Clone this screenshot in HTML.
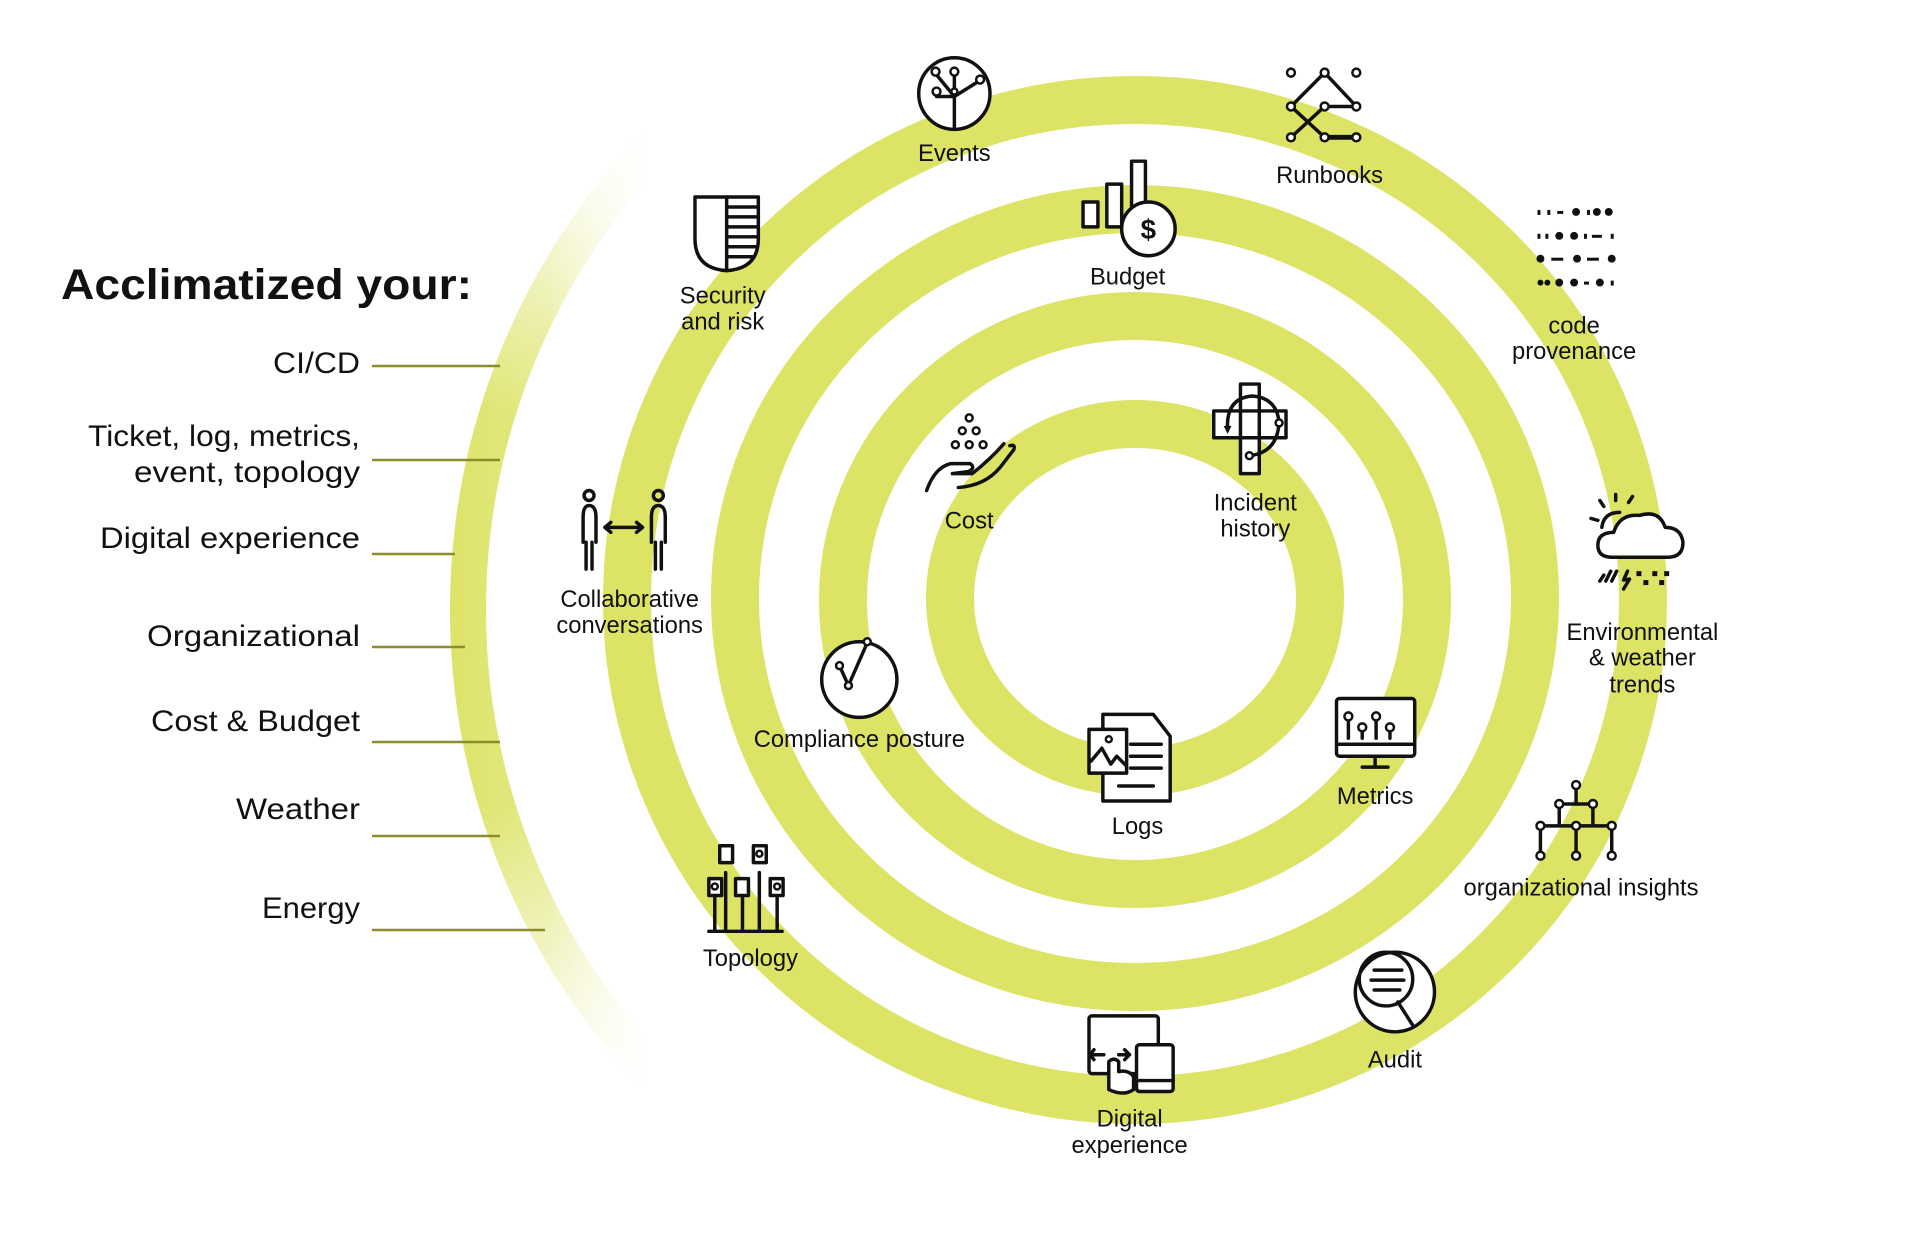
<!DOCTYPE html>
<html><head><meta charset="utf-8"><style>
html,body{margin:0;padding:0;background:#fff;}
svg{display:block;}
text{font-family:"Liberation Sans",sans-serif;fill:#111;}
.l{font-size:24px;text-anchor:middle;}
.r{font-size:30px;text-anchor:end;}
.i{fill:none;stroke:#111;stroke-width:3.5;stroke-linecap:round;stroke-linejoin:round;}
.w{fill:#fff;stroke:#111;stroke-width:3.5;stroke-linejoin:round;}
.n{fill:#fff;stroke:#111;stroke-width:2.5;}
</style></head><body>
<svg width="1920" height="1257" viewBox="0 0 1920 1257" xmlns="http://www.w3.org/2000/svg">
<defs>
<linearGradient id="fg" x1="440" y1="0" x2="650" y2="0" gradientUnits="userSpaceOnUse">
<stop offset="0" stop-color="#dce365" stop-opacity="1"/>
<stop offset="0.5" stop-color="#dce365" stop-opacity="0.8"/>
<stop offset="1" stop-color="#dce365" stop-opacity="0"/>
</linearGradient>
<linearGradient id="fv" x1="0" y1="120" x2="0" y2="1100" gradientUnits="userSpaceOnUse">
<stop offset="0" stop-color="#fff" stop-opacity="0"/>
<stop offset="0.3" stop-color="#fff" stop-opacity="1"/>
<stop offset="0.7" stop-color="#fff" stop-opacity="1"/>
<stop offset="1" stop-color="#fff" stop-opacity="0"/>
</linearGradient>
<mask id="m"><rect x="0" y="0" width="1920" height="1257" fill="url(#fv)"/></mask>
<clipPath id="c"><rect x="0" y="0" width="650" height="1257"/></clipPath>
</defs>
<g clip-path="url(#c)" mask="url(#m)">
<circle cx="1140" cy="610" r="672" fill="none" stroke="url(#fg)" stroke-width="36"/>
</g>
<g fill="none" stroke="#dce365" stroke-width="48">
<ellipse cx="1135" cy="598" rx="185" ry="174"/>
<ellipse cx="1135" cy="600" rx="292" ry="284"/>
<ellipse cx="1135" cy="598" rx="400" ry="389"/>
<ellipse cx="1135" cy="600" rx="508" ry="500"/>
</g>
<text x="61" y="299" style="font-size:43px;font-weight:bold" textLength="411" lengthAdjust="spacingAndGlyphs">Acclimatized your:</text>
<text class="r" x="360" y="373" textLength="87" lengthAdjust="spacingAndGlyphs">CI/CD</text>
<text class="r" x="360" y="446" textLength="272" lengthAdjust="spacingAndGlyphs">Ticket, log, metrics,</text>
<text class="r" x="360" y="482" textLength="226" lengthAdjust="spacingAndGlyphs">event, topology</text>
<text class="r" x="360" y="548" textLength="260" lengthAdjust="spacingAndGlyphs">Digital experience</text>
<text class="r" x="360" y="646" textLength="213" lengthAdjust="spacingAndGlyphs">Organizational</text>
<text class="r" x="360" y="731" textLength="209" lengthAdjust="spacingAndGlyphs">Cost &amp; Budget</text>
<text class="r" x="360" y="819" textLength="124" lengthAdjust="spacingAndGlyphs">Weather</text>
<text class="r" x="360" y="918" textLength="98" lengthAdjust="spacingAndGlyphs">Energy</text>
<g stroke="#8a8c2e" stroke-width="2.5">
<line x1="372" y1="366" x2="500" y2="366"/>
<line x1="372" y1="460" x2="500" y2="460"/>
<line x1="372" y1="554" x2="455" y2="554"/>
<line x1="372" y1="647" x2="465" y2="647"/>
<line x1="372" y1="742" x2="500" y2="742"/>
<line x1="372" y1="836" x2="500" y2="836"/>
<line x1="372" y1="930" x2="545" y2="930"/>
</g>
<g transform="scale(0.99,0.995)">
<text class="l" x="964" y="162">Events</text>
<text class="l" x="1343" y="184">Runbooks</text>
<text class="l" x="1139" y="286">Budget</text>
<text class="l" x="730" y="305">Security</text><text class="l" x="730" y="331">and risk</text>
<text class="l" x="1590" y="335">code</text><text class="l" x="1590" y="361">provenance</text>
<text class="l" x="979" y="531">Cost</text>
<text class="l" x="1268" y="513">Incident</text><text class="l" x="1268" y="539">history</text>
<text class="l" x="636" y="610">Collaborative</text><text class="l" x="636" y="636">conversations</text>
<text class="l" x="1659" y="643">Environmental</text><text class="l" x="1659" y="669">&amp; weather</text><text class="l" x="1659" y="696">trends</text>
<text class="l" x="868" y="751">Compliance posture</text>
<text class="l" x="1389" y="808">Metrics</text>
<text class="l" x="1149" y="838">Logs</text>
<text class="l" x="1597" y="900">organizational insights</text>
<text class="l" x="758" y="971">Topology</text>
<text class="l" x="1409" y="1073">Audit</text>
<text class="l" x="1141" y="1132">Digital</text><text class="l" x="1141" y="1159">experience</text>

<circle class="w" cx="964" cy="94" r="36"/>
<path class="i" d="M964 130V97M964 97L945 74M964 97L988 82M964 97V72M964 97H946"/>
<g class="n"><circle cx="945" cy="72" r="4"/><circle cx="990" cy="80" r="4"/><circle cx="964" cy="72" r="4"/><circle cx="946" cy="92" r="4"/><circle cx="964" cy="92" r="3"/></g>
<g transform="translate(10,0)">
<path class="i" d="M1328 73L1294 107L1328 138M1328 73L1360 107L1328 107L1294 138M1328 138H1360"/>
<path d="M1328 138H1360" stroke="#111" stroke-width="5"/>
<g class="n"><circle cx="1294" cy="73" r="4"/><circle cx="1328" cy="73" r="4"/><circle cx="1360" cy="73" r="4"/><circle cx="1294" cy="107" r="4"/><circle cx="1328" cy="107" r="4"/><circle cx="1360" cy="107" r="4"/><circle cx="1294" cy="138" r="4"/><circle cx="1328" cy="138" r="4"/><circle cx="1360" cy="138" r="4"/></g>
</g>
<rect class="w" x="1094" y="203" width="15" height="25"/>
<rect class="w" x="1118" y="185" width="15" height="43"/>
<rect class="w" x="1143" y="162" width="14" height="50"/>
<circle class="w" cx="1160" cy="230" r="27"/>
<text x="1160" y="240" style="font-size:28px;font-weight:bold;text-anchor:middle">$</text>
<path class="w" d="M702 198H766V240Q766 270 734 272Q702 270 702 240Z"/>
<path class="i" d="M734 198V272M734 208H766M734 218H766M734 228H766M734 238H766M734 248H765M734 258H760" stroke-width="3"/>
<g fill="#111">
<circle cx="1592" cy="213" r="4"/><circle cx="1613" cy="213" r="4"/><circle cx="1625" cy="213" r="4"/><rect x="1553" y="211" width="3" height="5"/><rect x="1563" y="211" width="3" height="5"/><rect x="1573" y="212" width="6" height="3"/><rect x="1603" y="211" width="3" height="5"/>
<circle cx="1575" cy="237" r="4"/><circle cx="1590" cy="237" r="4"/><rect x="1553" y="235" width="3" height="5"/><rect x="1561" y="235" width="3" height="5"/><rect x="1600" y="235" width="3" height="5"/><rect x="1608" y="236" width="10" height="3"/><rect x="1627" y="235" width="3" height="5"/>
<circle cx="1556" cy="260" r="4"/><circle cx="1593" cy="260" r="4"/><circle cx="1628" cy="260" r="4"/><rect x="1567" y="259" width="12" height="3"/><rect x="1603" y="259" width="12" height="3"/>
<circle cx="1556" cy="284" r="3"/><circle cx="1563" cy="284" r="3"/><circle cx="1575" cy="284" r="4"/><circle cx="1590" cy="284" r="4"/><rect x="1600" y="283" width="5" height="3"/><circle cx="1616" cy="284" r="4"/><rect x="1627" y="282" width="3" height="5"/>
</g>
<path class="i" d="M936 493Q944 470 960 466L980 466Q986 470 978 474L962 476M962 476L982 476Q1000 462 1014 446M968 490Q995 488 1010 470L1024 452Q1026 446 1020 448"/>
<g class="n"><circle cx="979" cy="420" r="3.5"/><circle cx="972" cy="433" r="3.5"/><circle cx="986" cy="433" r="3.5"/><circle cx="965" cy="447" r="3.5"/><circle cx="979" cy="447" r="3.5"/><circle cx="993" cy="447" r="3.5"/></g>
<path class="w" d="M1253 386H1272V413H1299V440H1272V476H1253V440H1226V413H1253Z"/>
<path class="i" d="M1253 413V440M1272 413V440M1253 440H1272M1253 413H1272" stroke-width="2.5"/>
<path class="i" d="M1240 432Q1238 400 1265 398Q1290 400 1292 425Q1290 455 1262 458" stroke-width="2.5"/>
<path d="M1236 428L1244 428L1240 436Z" fill="#111"/>
<circle class="n" cx="1292" cy="425" r="3.5"/><circle class="n" cx="1262" cy="458" r="3.5"/>
<g class="i" stroke-width="3">
<circle cx="595" cy="498" r="5"/><path d="M589 545V520Q589 508 595 508Q602 508 602 520V545M592 545V572M598 545V572"/>
<circle cx="665" cy="498" r="5"/><path d="M658 545V520Q658 508 665 508Q672 508 672 520V545M662 545V572M668 545V572"/>
<path d="M612 530H648M617 525L611 530L617 535M643 525L649 530L643 535"/>
</g>
<path class="w" d="M1628 560Q1614 560 1614 548Q1614 535 1630 535Q1636 516 1656 518Q1676 512 1682 530Q1698 530 1700 545Q1700 560 1685 560Z"/>
<path class="i" d="M1618 530Q1620 515 1636 515M1614 523L1607 521M1620 509L1616 503M1632 503V497M1645 505L1649 499M1620 578L1616 584M1627 574L1622 584M1633 574L1628 584M1644 574L1640 583L1646 582L1640 592"/>
<g fill="#111"><rect x="1653" y="574" width="5" height="5"/><rect x="1660" y="583" width="5" height="5"/><rect x="1669" y="574" width="5" height="5"/><rect x="1676" y="583" width="5" height="5"/><rect x="1681" y="574" width="5" height="5"/></g>
<circle class="w" cx="868" cy="683" r="38"/>
<path class="i" d="M848 669L857 689L876 646"/>
<g class="n"><circle cx="848" cy="669" r="3.5"/><circle cx="857" cy="689" r="3.5"/><circle cx="876" cy="645" r="3.5"/></g>
<rect class="w" x="1350" y="702" width="79" height="58" rx="3"/>
<path class="i" d="M1350 748H1429M1389 760V770M1376 771H1402M1362 742V722M1376 742V733M1390 742V722M1404 742V733"/>
<g class="n"><circle cx="1362" cy="720" r="4"/><circle cx="1376" cy="731" r="4"/><circle cx="1390" cy="720" r="4"/><circle cx="1404" cy="731" r="4"/></g>
<path class="w" d="M1114 718H1165L1182 740V805H1114Z"/>
<rect class="w" x="1100" y="733" width="38" height="44"/>
<path class="i" d="M1102 765L1113 752L1122 768L1128 760L1138 770M1142 748H1173M1142 760H1173M1142 772H1173M1130 790H1165"/>
<circle class="n" cx="1120" cy="743" r="3"/>
<path class="i" d="M1592 790V808M1575 808H1609V830M1575 808V830M1556 830H1628M1556 830V858M1592 830V858M1628 830V858"/>
<g class="n"><circle cx="1592" cy="789" r="4"/><circle cx="1575" cy="808" r="4"/><circle cx="1609" cy="808" r="4"/><circle cx="1556" cy="830" r="4"/><circle cx="1592" cy="830" r="4"/><circle cx="1628" cy="830" r="4"/><circle cx="1556" cy="860" r="4"/><circle cx="1592" cy="860" r="4"/><circle cx="1628" cy="860" r="4"/></g>
<path class="i" d="M716 936H790M733 877V936M767 877V936M722 902V936M750 902V936M785 902V936"/>
<g class="w" stroke-width="3"><rect x="727" y="850" width="13" height="17"/><rect x="761" y="850" width="13" height="17"/><rect x="716" y="883" width="13" height="17"/><rect x="743" y="883" width="13" height="17"/><rect x="778" y="883" width="13" height="17"/></g>
<g class="n"><circle cx="767" cy="858" r="3"/><circle cx="722" cy="891" r="3"/><circle cx="785" cy="891" r="3"/></g>
<circle class="w" cx="1409" cy="997" r="40"/>
<circle class="i" cx="1400" cy="984" r="27"/>
<path class="i" d="M1388 975H1416M1385 985H1418M1388 995H1414M1412 1007L1428 1032"/>
<rect class="w" x="1100" y="1021" width="70" height="58" rx="3"/>
<rect class="w" x="1148" y="1050" width="37" height="47" rx="3"/>
<path class="i" d="M1148 1086H1185M1102 1060H1115M1105 1055L1101 1060L1105 1065M1130 1060H1140M1136 1055L1141 1060L1136 1065"/>
<path class="w" d="M1120 1095V1067Q1125 1062 1130 1067V1077Q1140 1075 1145 1082V1095Q1135 1102 1120 1095Z" stroke-width="3"/>
</g>
</svg>
</body></html>
